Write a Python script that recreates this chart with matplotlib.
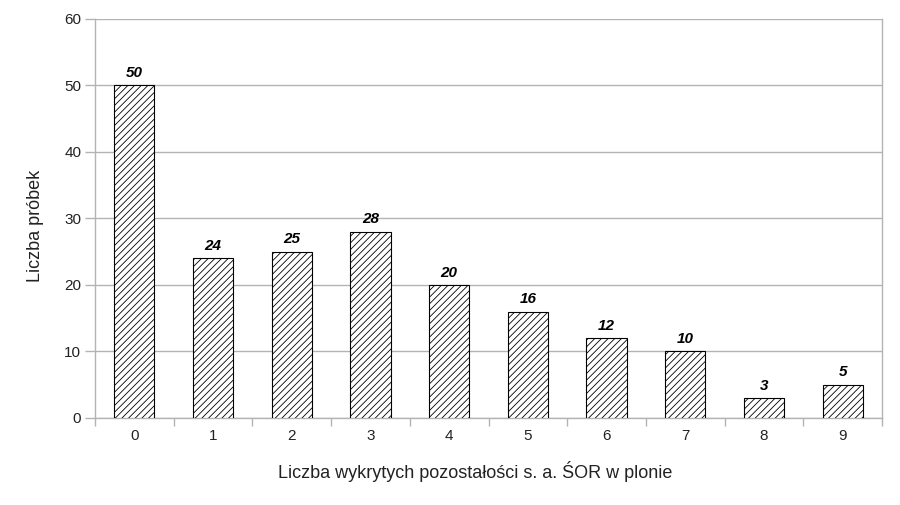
import numpy as np
import matplotlib
matplotlib.use("Agg")
import matplotlib.pyplot as plt

plt.rcParams['font.family'] = ['Liberation Sans', 'DejaVu Sans']
plt.rcParams['hatch.linewidth'] = 0.6

# Data
categories = ['0', '1', '2', '3', '4', '5', '6', '7', '8', '9']
counts = [50, 24, 25, 28, 20, 16, 12, 10, 3, 5]
y_ticks = [0, 10, 20, 30, 40, 50, 60]

fig = plt.figure(figsize=(9, 5.05), dpi=100)
ax = fig.add_axes([0.1056, 0.1723, 0.8744, 0.7901])

x = np.arange(len(categories))
bars = ax.bar(x, counts, width=0.51, color='white', edgecolor='black',
              linewidth=0.8, hatch='/////', zorder=3)

for xi, v in zip(x, counts):
    ax.text(xi, v + 0.8, str(v), ha='center', va='bottom', fontsize=11,
            fontweight='bold', fontstyle='italic', color='black', zorder=4)

ax.set_xlim(-0.5, len(categories) - 0.5)
ax.set_ylim(0, 60)
ax.set_yticks(y_ticks)
ax.set_xticks(x)
ax.set_xticklabels(categories)
ax.set_xticks(np.arange(-0.5, len(categories)), minor=True)
ax.tick_params(axis='x', which='major', length=0, pad=8, labelsize=11, labelcolor='#222222')
ax.tick_params(axis='x', which='minor', length=6, color='#b3b3b3', width=1)
ax.tick_params(axis='y', length=7, color='#b3b3b3', width=1, pad=3, labelsize=11, labelcolor='#222222')

ax.grid(axis='y', color='#b3b3b3', linewidth=1, zorder=0)
ax.spines['top'].set_visible(False)
for side in ['left', 'bottom', 'right']:
    ax.spines[side].set_color('#b3b3b3')
    ax.spines[side].set_linewidth(1)

ax.set_ylabel('Liczba próbek', fontsize=13, color='#222222')
ax.set_xlabel('Liczba wykrytych pozostałości s. a. ŚOR w plonie', fontsize=13,
              color='#222222')
ax.yaxis.set_label_coords(-0.076, 0.481)
ax.xaxis.set_label_coords(0.483, -0.135)
ax.xaxis.label.set_va('center')
ax.yaxis.label.set_va('center')

fig.savefig('out.png', dpi=100)
